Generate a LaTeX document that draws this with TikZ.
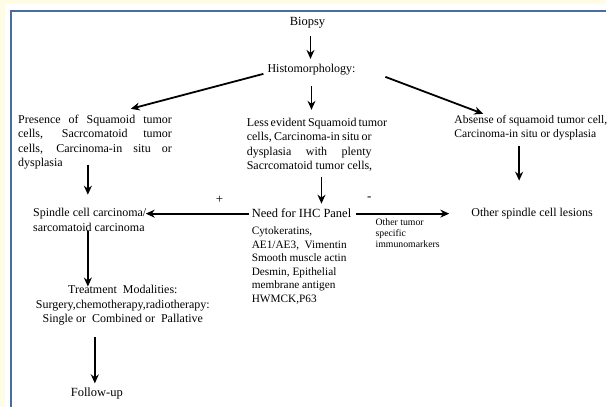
\documentclass[tikz,border=0pt]{standalone}
\usepackage{fontspec}
\setmainfont{Liberation Serif}
\usetikzlibrary{arrows.meta}
\definecolor{cream}{HTML}{FFFCE6}
\definecolor{frameblue}{HTML}{4A6DA0}
\newcommand{\jl}[2]{\makebox[#1][s]{#2}}
\begin{document}
\begin{tikzpicture}[x=1pt,y=-1pt,
  txt/.style={inner sep=0pt,font=\fontsize{12}{14.5}\selectfont},
  lst/.style={inner sep=0pt,font=\fontsize{11.3}{13.6}\selectfont,align=left},
  sml/.style={inner sep=0pt,font=\fontsize{9.8}{11}\selectfont,align=left},
  arr/.style={line width=1.8pt,-{Stealth[length=9pt,width=8pt]}}]
\fill[cream] (0,0) rectangle (607,408);
\fill[white] (5,4) rectangle (607,408);
\draw[frameblue,line width=2pt] (11,408) -- (11,11.5) -- (607,11.5);
\useasboundingbox (0,0) rectangle (607,408);

\node[txt,font=\fontsize{12.5}{14}\selectfont] (biopsy) at (308,23) {Biopsy};
\node[txt] (histo) at (312,70) {Histomorphology:};
\node[txt,anchor=north west,align=left] (pres) at (18,115)
  {\jl{154pt}{Presence of Squamoid tumor}\\\jl{154pt}{cells, Sacrcomatoid tumor}\\\jl{154pt}{cells, Carcinoma-in situ or}\\dysplasia};
\node[txt,anchor=north west,align=left] (less) at (247,118)
  {\jl{125pt}{Less evident Squamoid tumor}\\\jl{125pt}{cells, Carcinoma-in situ or}\\\jl{125pt}{dysplasia with plenty}\\Sacrcomatoid tumor cells,};
\node[txt,anchor=north west,align=left,font=\fontsize{11.6}{14.5}\selectfont] (abs) at (455,115)
  {Absense of squamoid tumor cell,\\Carcinoma-in situ or dysplasia};
\node[txt,anchor=west,font=\fontsize{12.5}{14}\selectfont] (ihc) at (252,214) {Need for IHC Panel};
\node[txt,anchor=west] (other) at (472,214) {Other spindle cell lesions};
\node[txt,anchor=north west,align=left] (spindle) at (33,208)
  {Spindle cell carcinoma/\\[0.5pt]sarcomatoid carcinoma};
\node[lst,anchor=north west] (list) at (252,227)
  {Cytokeratins,\\AE1/AE3,\ \ Vimentin\\Smooth muscle actin\\Desmin, Epithelial\\membrane antigen\\HWMCK,P63};
\node[sml,anchor=north west] (markers) at (376,219)
  {Other tumor\\specific\\immunomarkers};
\node[txt,align=center] (treat) at (123,306)
  {Treatment\ \ Modalities:\\Surgery,chemotherapy,radiotherapy:\\Single\ or\ \ Combined\ or\ \ Pallative};
\node[txt,font=\fontsize{12.5}{14}\selectfont] (follow) at (97,394) {Follow-up};
\node[txt,font=\fontsize{13}{14}\selectfont] (plus) at (220,200) {+};
\node[txt,font=\fontsize{13}{14}\selectfont] (minus) at (370,199) {-};

\coordinate (a1s) at (311,36); \coordinate (a1e) at (311,59);
\draw[arr] (a1s) -- (a1e);
\draw[arr] (histo.west) ++(-4,4) coordinate (dl) -- (131,109);
\coordinate (dr) at (386,77);
\draw[arr] (dr) -- (484,114);
\coordinate (a2s) at (312,86); \coordinate (a2e) at (312,110);
\draw[arr] (a2s) -- (a2e);
\coordinate (a3s) at (88,165); \coordinate (a3e) at (88,195);
\draw[arr] (a3s) -- (a3e);
\coordinate (a4s) at (322,177); \coordinate (a4e) at (322,204);
\draw[arr] (a4s) -- (a4e);
\coordinate (a5s) at (520,146); \coordinate (a5e) at (520,181);
\draw[arr] (a5s) -- (a5e);
\draw[arr] (ihc.west) ++(-3,0) coordinate (hl) -- (146,214);
\draw[arr] (ihc.east) ++(5,0) coordinate (hr) -- (450,214);
\coordinate (a6s) at (88,231); \coordinate (a6e) at (88,287);
\draw[arr] (a6s) -- (a6e);
\coordinate (a7s) at (95,338); \coordinate (a7e) at (95,384);
\draw[arr] (a7s) -- (a7e);
\end{tikzpicture}
\end{document}
